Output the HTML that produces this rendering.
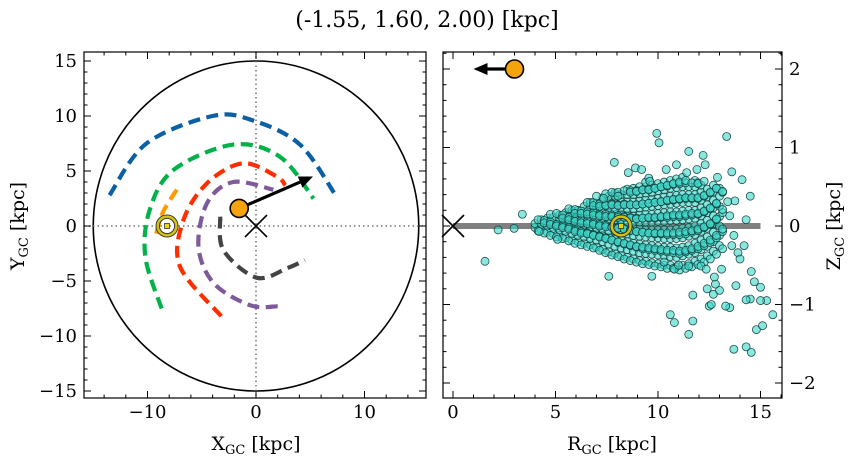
<!DOCTYPE html>
<html><head><meta charset="utf-8"><style>
body{margin:0;background:#fff}
text{font-family:"DejaVu Serif","Liberation Serif",serif;fill:#000}
</style></head><body>
<svg id="fig" width="854" height="464" xmlns="http://www.w3.org/2000/svg">
<text x="427" y="27" font-size="22" text-anchor="middle">(-1.55, 1.60, 2.00) [kpc]</text>
<g id="left"></g>
<g id="right"></g>
</svg>
<script>
// ---- data ----
const starPos = [-1.55, 1.60, 2.00];
const starVelXY = [5.25, 4.5];
const starRZ = [3.0, 2.0];
const starArrowR = 1.0;
const sunX = -8.2;
const xyTicks = [-10, 0, 10];
const yTicksLeft = [-15, -10, -5, 0, 5, 10, 15];
const rTicks = [0, 5, 10, 15];
const zTicks = [-2, -1, 0, 1, 2];
const arcColors = ['#0a5fa5', '#00b248', '#ff9a00', '#ff2e00', '#7e5a9b', '#444444'];
const arcBlue = [[-13.5,2.8],[-10.1,7.5],[-4.0,10.0],[-0.3,9.6],[4.05,7.4],[7.4,2.7]];
const arcGreen = [[-8.7,-7.5],[-10.2,-2.8],[-9.8,1.45],[-7.6,5.1],[-2.1,7.4],[2.2,6.3],[5.3,2.5]];
const arcOrange = [[-7.3,3.3],[-8.6,1.2],[-9.3,-1.1]];
const arcRed = [[-3.2,-8.2],[-7.0,-3.7],[-6.7,0.5],[-4.5,3.9],[-1.2,5.7],[1.9,4.5],[2.7,3.7]];
const arcPurple = [[2.0,-7.3],[-0.55,-7.2],[-3.9,-5.2],[-5.3,-1.9],[-4.5,2.1],[-2.1,4.0],[1.6,3.3]];
const arcGrey = [[-3.3,0.85],[-3.0,-2.2],[0.06,-4.7],[2.95,-3.8],[4.5,-3.1]];
const outliers = [[9.94,1.18],[10.05,1.06],[13.35,1.14],[11.5,0.95],[7.87,0.81],[8.55,0.68],[8.9,0.74],[12.2,0.9],[13.6,0.69],[14.1,0.59],[14.5,0.38],[14.3,0.08],[3.38,0.15],[1.56,-0.45],[2.2,-0.05],[2.98,-0.03],[7.6,-0.64],[9.7,-0.64],[10.6,-1.13],[10.8,-1.23],[11.7,-1.21],[11.5,-1.38],[13.7,-1.57],[14.3,-1.54],[14.55,-1.61],[14.8,-1.32],[15.1,-1.27],[15.6,-1.13],[15.3,-0.95],[15.0,-0.95],[14.55,-0.58],[14.7,-0.71],[15.0,-0.78],[14.5,-0.93],[14.3,-0.94],[13.8,-0.76],[13.5,-1.04],[13.3,-1.02],[12.5,-1.02],[12.6,-1.0],[12.7,-0.87],[12.4,-0.8],[13.0,-0.82],[12.8,-0.74],[12.75,-0.65],[13.1,-0.55],[11.7,-0.88],[12.1,-0.51],[12.35,-0.55],[13.9,-0.34],[14.0,-0.42],[14.2,-0.25],[13.7,-0.12],[13.6,-0.25],[13.75,0.32],[13.4,0.31],[13.5,0.13],[10.8,-0.55],[11.0,-0.5],[11.5,-0.51],[10.3,-0.46],[5.1,-0.17],[4.2,-0.07],[7.0,0.38],[7.35,0.35],[10.4,0.72],[10.9,0.78],[11.4,0.68],[11.9,0.72],[12.3,0.78],[9.2,0.72],[9.6,0.57],[12.9,0.62]];
const clusterR = [4.0,4.3,4.6,4.9,5.2,5.5,5.8,6.1,6.4,6.7,7.0,7.3,7.6,7.9,8.2,8.5,8.8,9.1,9.4,9.7,10.0,10.3,10.6,10.9,11.2,11.5,11.8,12.1,12.4,12.7,13.0];
const clusterZ = [
[-0.02,0.03],[-0.05,0.02,0.08],[-0.08,0.0,0.06,0.1],[-0.1,-0.03,0.04,0.11],
[-0.12,-0.05,0.02,0.09,0.14],[-0.15,-0.07,0.0,0.06,0.12,0.17],[-0.18,-0.1,-0.03,0.04,0.1,0.16,0.2],
[-0.2,-0.12,-0.05,0.02,0.08,0.14,0.2],[-0.22,-0.14,-0.06,0.01,0.07,0.13,0.19,0.25],
[-0.24,-0.16,-0.08,-0.01,0.06,0.12,0.18,0.25,0.3],[-0.27,-0.18,-0.1,-0.03,0.04,0.1,0.17,0.23,0.29],
[-0.3,-0.2,-0.12,-0.04,0.03,0.1,0.16,0.22,0.3,0.36],[-0.33,-0.23,-0.14,-0.06,0.02,0.09,0.16,0.23,0.31,0.38],
[-0.35,-0.26,-0.16,-0.07,0.01,0.08,0.15,0.22,0.3,0.38,0.42],[-0.38,-0.28,-0.18,-0.09,0.0,0.07,0.15,0.23,0.31,0.4],
[-0.4,-0.3,-0.2,-0.1,-0.02,0.06,0.14,0.22,0.31,0.4,0.47],[-0.42,-0.32,-0.22,-0.12,-0.03,0.05,0.13,0.22,0.31,0.4,0.48],
[-0.44,-0.34,-0.23,-0.13,-0.04,0.05,0.14,0.23,0.32,0.41,0.5],[-0.45,-0.35,-0.24,-0.14,-0.05,0.05,0.15,0.24,0.33,0.42,0.5,0.56],
[-0.47,-0.36,-0.25,-0.15,-0.05,0.05,0.15,0.25,0.34,0.43,0.52],[-0.48,-0.37,-0.26,-0.15,-0.05,0.06,0.16,0.26,0.35,0.45,0.54],
[-0.5,-0.38,-0.27,-0.16,-0.05,0.06,0.17,0.27,0.37,0.46,0.56],[-0.5,-0.39,-0.27,-0.16,-0.05,0.07,0.18,0.28,0.38,0.48,0.58],
[-0.52,-0.4,-0.28,-0.16,-0.04,0.07,0.18,0.29,0.39,0.49,0.6],[-0.5,-0.38,-0.27,-0.15,-0.03,0.08,0.19,0.3,0.4,0.5,0.62],
[-0.48,-0.36,-0.25,-0.13,-0.02,0.09,0.2,0.3,0.4,0.5],[-0.45,-0.34,-0.22,-0.11,0.0,0.1,0.2,0.3,0.4,0.5,0.58],
[-0.42,-0.3,-0.18,-0.07,0.03,0.13,0.23,0.33,0.43,0.52],[-0.38,-0.26,-0.14,-0.03,0.07,0.17,0.27,0.37,0.47],
[-0.32,-0.2,-0.08,0.03,0.13,0.23,0.33,0.43,0.52],[-0.25,-0.12,0.0,0.12,0.25,0.38,0.48]];

// ---- helpers ----
const NS='http://www.w3.org/2000/svg';
function mk(parent, tag, attrs){const e=document.createElementNS(NS,tag);for(const k in attrs)e.setAttribute(k,attrs[k]);parent.appendChild(e);return e;}
const L={x0:84,x1:426,y0:52,y1:398};
const R={x0:443,x1:782,y0:52,y1:398};
const lx=v=>256+10.85*v, ly=v=>226-11.0*v;
const rx=v=>453+20.5*v, rz=v=>226-78.5*v;
const left=document.getElementById('left'), right=document.getElementById('right');

function smoothPath(pts, fx, fy){
  const P=pts.map(p=>[fx(p[0]),fy(p[1])]);
  let d='M'+P[0][0]+','+P[0][1];
  for(let i=0;i<P.length-1;i++){
    const p0=P[Math.max(0,i-1)],p1=P[i],p2=P[i+1],p3=P[Math.min(P.length-1,i+2)];
    const c1=[p1[0]+(p2[0]-p0[0])/6,p1[1]+(p2[1]-p0[1])/6];
    const c2=[p2[0]-(p3[0]-p1[0])/6,p2[1]-(p3[1]-p1[1])/6];
    d+=` C${c1[0]},${c1[1]} ${c2[0]},${c2[1]} ${p2[0]},${p2[1]}`;
  }
  return d;
}
function ticks(g, box, vals, f, axis, len){
  vals.forEach(v=>{
    const p=f(v);
    if(p<(axis==='x'?box.x0:box.y0)-0.5||p>(axis==='x'?box.x1:box.y1)+0.5)return;
    if(axis==='x'){
      mk(g,'line',{x1:p,x2:p,y1:box.y1,y2:box.y1-len,stroke:'#000','stroke-width':1});
      mk(g,'line',{x1:p,x2:p,y1:box.y0,y2:box.y0+len,stroke:'#000','stroke-width':1});
    } else {
      mk(g,'line',{y1:p,y2:p,x1:box.x0,x2:box.x0+len,stroke:'#000','stroke-width':1});
      mk(g,'line',{y1:p,y2:p,x1:box.x1,x2:box.x1-len,stroke:'#000','stroke-width':1});
    }
  });
}
function range(a,b,s){const r=[];for(let v=a;v<=b+1e-9;v+=s)r.push(Math.round(v*100)/100);return r;}
function fmt(v){return v<0?'\u2212'+Math.abs(v):String(v);}

// ---- LEFT PANEL ----
const galEdge=mk(left,'ellipse',{cx:lx(0),cy:ly(0),rx:10.85*15,ry:11*15,fill:'none',stroke:'#000','stroke-width':1.6});


mk(left,'line',{x1:L.x0,x2:L.x1,y1:ly(0),y2:ly(0),stroke:'#777','stroke-width':1.5,'stroke-dasharray':'1.5 3'});
mk(left,'line',{x1:lx(0),x2:lx(0),y1:L.y0,y2:L.y1,stroke:'#777','stroke-width':1.5,'stroke-dasharray':'1.5 3'});
const arcs=[['orbit-arc-blue',arcBlue],['orbit-arc-green',arcGreen],['orbit-arc-orange',arcOrange],['orbit-arc-red',arcRed],['orbit-arc-purple',arcPurple],['orbit-arc-grey',arcGrey]];
arcs.forEach((a,i)=>{
  const p=mk(left,'path',{d:smoothPath(a[1],lx,ly),fill:'none',stroke:arcColors[i],'stroke-width':4.2,'stroke-dasharray':'12 6.5'});
  
  
});
const gc=mk(left,'path',{d:`M${lx(0)-11},${ly(0)-11}L${lx(0)+11},${ly(0)+11}M${lx(0)-11},${ly(0)+11}L${lx(0)+11},${ly(0)-11}`,stroke:'#000','stroke-width':1.6});


mk(left,'line',{x1:lx(starPos[0]),y1:ly(starPos[1]),x2:lx(0),y2:ly(0),stroke:'#000','stroke-width':1.2});
function sun(g,cx,cy,name){
  const s=mk(g,'g',{});
  
  
  mk(s,'circle',{cx,cy,r:11,fill:'none',stroke:'#333','stroke-width':1});
  mk(s,'circle',{cx,cy,r:9.3,fill:'none',stroke:'#d4c400','stroke-width':2.4});
  mk(s,'circle',{cx,cy,r:7.6,fill:'none',stroke:'#333','stroke-width':1});
  mk(s,'rect',{x:cx-2.5,y:cy-2.5,width:5,height:5,fill:'#e8d800',stroke:'#333','stroke-width':0.8});
}
sun(left,lx(sunX),ly(0),'sun-marker-xy');
function arrow(g,x1,y1,x2,y2,name){
  const a=mk(g,'g',{});
  
  
  const ang=Math.atan2(y2-y1,x2-x1),hl=14,hw=6;
  const bx=x2-hl*Math.cos(ang),by=y2-hl*Math.sin(ang);
  mk(a,'line',{x1,y1,x2:bx,y2:by,stroke:'#000','stroke-width':3.2});
  mk(a,'polygon',{points:`${x2},${y2} ${bx+hw*Math.sin(ang)},${by-hw*Math.cos(ang)} ${bx-hw*Math.sin(ang)},${by+hw*Math.cos(ang)}`,fill:'#000'});
}
arrow(left,lx(starPos[0]),ly(starPos[1]),lx(starVelXY[0]),ly(starVelXY[1]),'velocity-arrow-xy');
const s1=mk(left,'circle',{cx:lx(starPos[0]),cy:ly(starPos[1]),r:9,fill:'#f7a30c',stroke:'#000','stroke-width':1.6});


mk(left,'rect',{x:L.x0,y:L.y0,width:L.x1-L.x0,height:L.y1-L.y0,fill:'none',stroke:'#000','stroke-width':1.2});
ticks(left,L,range(-16,16,2),lx,'x',3.5);
ticks(left,L,[-10,0,10],lx,'x',7);
ticks(left,L,range(-16,16,1),ly,'y',3.5);
ticks(left,L,yTicksLeft,ly,'y',7);
xyTicks.forEach(v=>{const t=mk(left,'text',{x:lx(v),y:418,'font-size':18,'text-anchor':'middle'});t.textContent=fmt(v);
  });
yTicksLeft.forEach(v=>{const t=mk(left,'text',{x:77,y:ly(v)+6,'font-size':18,'text-anchor':'end'});t.textContent=fmt(v);
  });
const xl=mk(left,'text',{x:256,y:450,'font-size':19,'text-anchor':'middle'});
xl.innerHTML='X<tspan font-size="13" dy="4">GC</tspan><tspan dy="-4"> [kpc]</tspan>';

const yl=mk(left,'text',{x:0,y:0,'font-size':19,'text-anchor':'middle',transform:'translate(24,226) rotate(-90)'});
yl.innerHTML='Y<tspan font-size="13" dy="4">GC</tspan><tspan dy="-4"> [kpc]</tspan>';


// ---- RIGHT PANEL ----
const plane=mk(right,'line',{x1:rx(0),x2:rx(15),y1:rz(0),y2:rz(0),stroke:'#808080','stroke-width':6});


const pts=mk(right,'g',{});


function dot(r,z){
  const c=mk(pts,'circle',{cx:rx(r),cy:rz(z),r:4,fill:'rgba(60,215,200,0.6)',stroke:'rgba(15,60,60,0.9)','stroke-width':0.8});
  
  
}
clusterR.forEach((r,i)=>clusterZ[i].forEach(z=>dot(r,z)));
clusterR.forEach((r,i)=>clusterZ[i].forEach((z,j)=>dot(r+0.15,z+(j%2?0.05:-0.04))));
outliers.forEach(p=>dot(p[0],p[1]));
const gc2=mk(right,'path',{d:`M${rx(0)-11},${rz(0)-11}L${rx(0)+11},${rz(0)+11}M${rx(0)-11},${rz(0)+11}L${rx(0)+11},${rz(0)-11}`,stroke:'#000','stroke-width':1.6});


sun(right,rx(-sunX),rz(0),'sun-marker-rz');
arrow(right,rx(starRZ[0]),rz(starRZ[1]),rx(starArrowR),rz(starRZ[1]),'velocity-arrow-rz');
const s2=mk(right,'circle',{cx:rx(starRZ[0]),cy:rz(starRZ[1]),r:9,fill:'#f7a30c',stroke:'#000','stroke-width':1.6});


mk(right,'rect',{x:R.x0,y:R.y0,width:R.x1-R.x0,height:R.y1-R.y0,fill:'none',stroke:'#000','stroke-width':1.2});
ticks(right,R,range(0,16,1),rx,'x',3.5);
ticks(right,R,rTicks,rx,'x',7);
ticks(right,R,range(-2.2,2.2,0.2),rz,'y',3.5);
ticks(right,R,zTicks,rz,'y',7);
rTicks.forEach(v=>{const t=mk(right,'text',{x:rx(v),y:418,'font-size':18,'text-anchor':'middle'});t.textContent=fmt(v);
  });
zTicks.forEach(v=>{const t=mk(right,'text',{x:789,y:rz(v)+6,'font-size':18,'text-anchor':'start'});t.textContent=fmt(v);
  });
const rl=mk(right,'text',{x:612,y:450,'font-size':19,'text-anchor':'middle'});
rl.innerHTML='R<tspan font-size="13" dy="4">GC</tspan><tspan dy="-4"> [kpc]</tspan>';

const zl=mk(right,'text',{x:0,y:0,'font-size':19,'text-anchor':'middle',transform:'translate(840,226) rotate(-90)'});
zl.innerHTML='Z<tspan font-size="13" dy="4">GC</tspan><tspan dy="-4"> [kpc]</tspan>';

</script>
</body></html>
